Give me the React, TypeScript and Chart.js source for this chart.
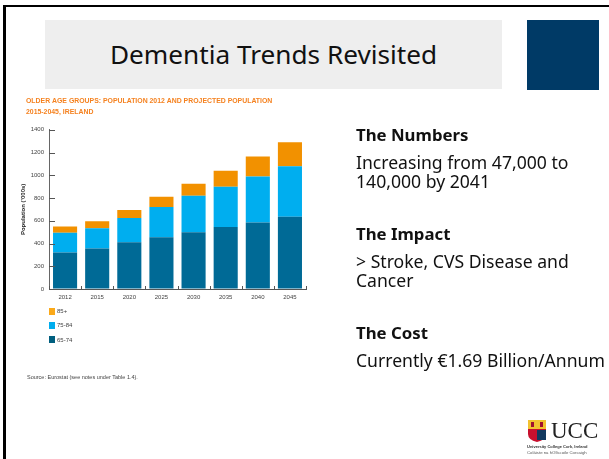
import React, { useEffect, useRef } from "react";
import { Chart, registerables } from "chart.js";

Chart.register(...registerables);

const categories = ["2012", "2015", "2020", "2025", "2030", "2035", "2040", "2045"];
const age6574 = [320, 355, 410, 455, 500, 545, 585, 635];
const age7584 = [175, 180, 215, 265, 320, 355, 405, 445];
const age85 = [55, 60, 70, 90, 105, 140, 175, 210];
const yTicks = [0, 200, 400, 600, 800, 1000, 1200, 1400];
const chartTitle = ["OLDER AGE GROUPS: POPULATION 2012 AND PROJECTED POPULATION", "2015-2045, IRELAND"];
const legendItems = [
  { label: "85+", color: "#fba919" },
  { label: "75-84", color: "#00adee" },
  { label: "65-74", color: "#005f7f" },
];
const slideSections = [
  { heading: "The Numbers", lines: ["Increasing from 47,000 to", "140,000 by 2041"], top: 125 },
  { heading: "The Impact", lines: ["> Stroke, CVS Disease and", "Cancer"], top: 223.5 },
  { heading: "The Cost", lines: ["Currently €1.69 Billion/Annum"], top: 322.7 },
];

const SANS = "'Liberation Sans', Arial, sans-serif";
const SLIDE = "'Noto Sans', sans-serif";

const abs = (s: React.CSSProperties): React.CSSProperties => ({ position: "absolute", ...s });

const innerTicks = {
  id: "innerTicks",
  afterDatasetsDraw(chart: any) {
    const { ctx, chartArea, scales } = chart;
    ctx.save();
    ctx.strokeStyle = "#555";
    ctx.lineWidth = 1;
    ctx.beginPath();
    for (const v of yTicks) {
      const y = Math.round(scales.y.getPixelForValue(v)) + 0.5;
      ctx.moveTo(chartArea.left, y);
      ctx.lineTo(chartArea.left + 6, y);
    }
    const n = categories.length;
    for (let i = 0; i <= n; i++) {
      const x = Math.round(scales.x.getPixelForValue(i - 0.5)) + 0.5;
      ctx.moveTo(x, chartArea.bottom - 3);
      ctx.lineTo(x, chartArea.bottom);
    }
    ctx.stroke();
    ctx.restore();
  },
};

export default function App() {
  const ref = useRef<HTMLCanvasElement>(null);
  useEffect(() => {
    document.body.style.margin = "0";
    const chart = new Chart(ref.current!, {
      type: "bar",
      plugins: [innerTicks],
      data: {
        labels: categories,
        datasets: [
          { label: "65-74", data: age6574, backgroundColor: "#006a96", stack: "a" },
          { label: "75-84", data: age7584, backgroundColor: "#00aeef", stack: "a" },
          { label: "85+", data: age85, backgroundColor: "#f29100", stack: "a" },
        ],
      },
      options: {
        animation: false,
        responsive: false,
        layout: { padding: { left: 26, top: 95, right: 303, bottom: 150 } },
        datasets: { bar: { categoryPercentage: 1, barPercentage: 0.75 } },
        plugins: {
          legend: { display: false },
          tooltip: { enabled: false },
          title: {
            display: true,
            text: chartTitle,
            align: "start",
            color: "#f58220",
            font: { family: SANS, size: 6.9, weight: "bold", lineHeight: 1.65 },
            padding: { top: 0, bottom: 12 },
          },
        },
        scales: {
          x: {
            stacked: true,
            afterFit: (s: any) => { s.height = 20; },
            grid: { drawOnChartArea: false, drawTicks: false },
            border: { color: "#555", width: 1 },
            ticks: { color: "#444", font: { family: SANS, size: 6 }, padding: 5, maxRotation: 0, autoSkip: false },
          },
          y: {
            stacked: true,
            min: 0,
            max: 1400,
            afterFit: (s: any) => { s.width = 23; },
            afterBuildTicks: (s: any) => { s.ticks = yTicks.map((value) => ({ value })); },
            grid: { drawOnChartArea: false, drawTicks: false },
            border: { color: "#666", width: 1 },
            ticks: { color: "#444", font: { family: SANS, size: 6 }, padding: 5, callback: (v: any) => String(v) },
            title: {
              display: true,
              text: "Population ('000s)",
              color: "#222",
              font: { family: SANS, size: 6, weight: "bold" },
              padding: { top: -6, bottom: 0 },
            },
          },
        },
      },
    } as any);
    return () => chart.destroy();
  }, []);

  return (
    <div style={abs({ left: 0, top: 0, width: 609, height: 459, background: "#fff", overflow: "hidden" })}>
      <div style={abs({ left: 45, top: 20, width: 457, height: 69, background: "#eeeeee" })} />
      <div style={abs({ left: 527, top: 20, width: 72, height: 70, background: "#003a66" })} />
      <div style={abs({ left: 3, top: 5, width: 606, height: 2, background: "#000" })} />
      <div style={abs({ left: 3, top: 5, width: 3, height: 454, background: "#000" })} />
      <div style={abs({ left: 45, top: 34, width: 457, textAlign: "center", font: `26.2px/40px ${SLIDE}`, color: "#111", whiteSpace: "nowrap" })}>
        Dementia Trends Revisited
      </div>
      <canvas ref={ref} width={609} height={459} style={abs({ left: 0, top: 0 })} />
      {legendItems.map((it, i) => (
        <React.Fragment key={it.label}>
          <div style={abs({ left: 49, top: 307.5 + i * 14.3, width: 6, height: 7, background: it.color })} />
          <div style={abs({ left: 57, top: 307 + i * 14.3, font: `6px/8px ${SANS}`, color: "#444" })}>{it.label}</div>
        </React.Fragment>
      ))}
      <div style={abs({ left: 27, top: 373, font: `5.5px/8px ${SANS}`, color: "#444", whiteSpace: "nowrap" })}>
        Source: Eurostat (see notes under Table 1.4).
      </div>
      {slideSections.map((s) => (
        <div key={s.heading} style={abs({ left: 356, top: s.top, color: "#111", whiteSpace: "nowrap", fontFamily: SLIDE })}>
          <div style={{ font: `bold 16.8px/20px ${SLIDE}`, marginBottom: 8 }}>{s.heading}</div>
          {s.lines.map((l) => (
            <div key={l} style={{ font: `17.6px/19px ${SLIDE}` }}>{l}</div>
          ))}
        </div>
      ))}
      <svg width={20} height={24} style={abs({ left: 527, top: 419 })}>
        <path d="M1 1H19V15Q19 21 10 23Q1 21 1 15Z" fill="#c8102e" />
        <rect x={1} y={1} width={18} height={9} fill="#f2c230" />
        <rect x={10} y={11} width={9} height={10} fill="#12395f" />
        <rect x={4} y={3} width={3} height={5} fill="#a01030" />
        <rect x={13} y={3} width={3} height={5} fill="#a01030" />
      </svg>
      <div style={abs({ left: 551, top: 415, font: `23px/32px 'Liberation Serif', serif`, color: "#222", whiteSpace: "nowrap" })}>UCC</div>
      <div style={abs({ left: 527, top: 444, font: `bold 4px/5px ${SANS}`, color: "#333", whiteSpace: "nowrap" })}>University College Cork, Ireland</div>
      <div style={abs({ left: 527, top: 450, font: `4.3px/6px ${SANS}`, color: "#555", whiteSpace: "nowrap" })}>Coláiste na hOllscoile Corcaigh</div>
    </div>
  );
}
